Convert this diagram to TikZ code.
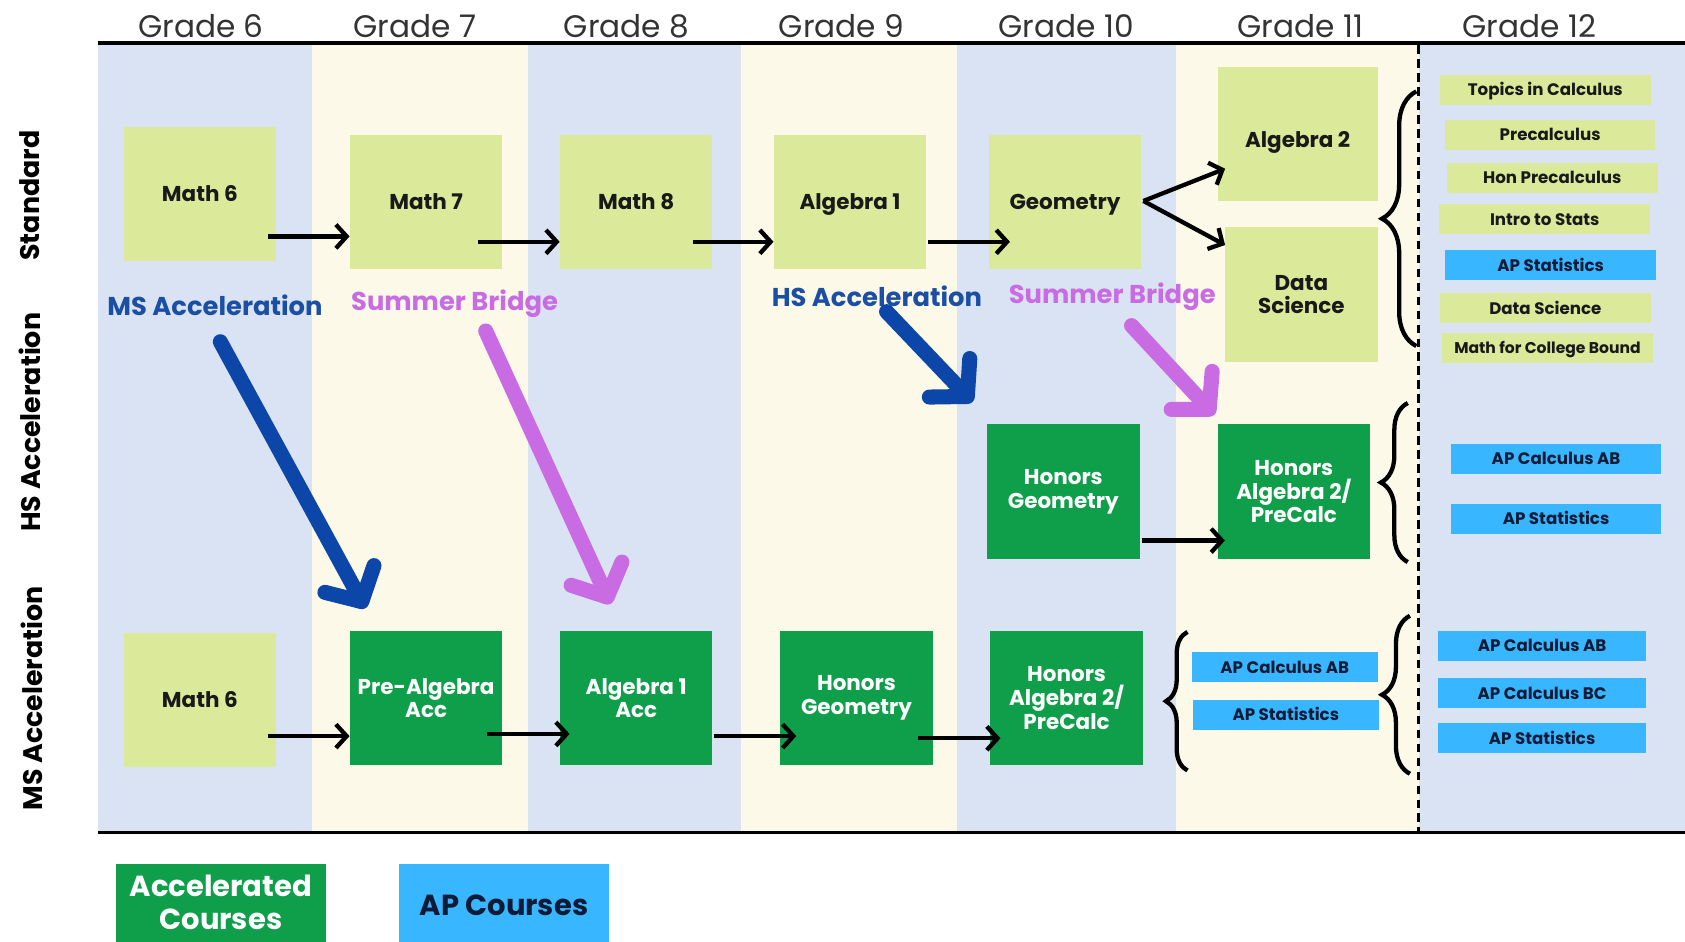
\documentclass[tikz,border=0pt]{standalone}
\usepackage{fontspec}
\setmainfont{Poppins}
\usetikzlibrary{arrows.meta,decorations.pathreplacing}
\definecolor{bgblue}{HTML}{DAE3F3}
\definecolor{bgcream}{HTML}{FDF9E9}
\definecolor{lgreen}{HTML}{DAE99A}
\definecolor{dgreen}{HTML}{0F9F4B}
\definecolor{apblue}{HTML}{38B6FF}
\definecolor{accblue}{HTML}{1B4FA3}
\definecolor{arrblue}{HTML}{0B46A8}
\definecolor{purp}{HTML}{C96CE3}
\definecolor{navy}{HTML}{0E1B36}
\begin{document}
\begin{tikzpicture}[x=1pt,y=-1pt,
  stdbox/.style={fill=lgreen, inner sep=0pt, align=center, minimum width=142pt, minimum height=125pt, font=\fontsize{20}{22}\selectfont\bfseries, text=black!90},
  oneline/.style={text height=14pt, text depth=0pt},
  accbox/.style={stdbox, fill=dgreen, text=white},
  listbox/.style={fill=lgreen, minimum width=196pt, minimum height=28pt, inner sep=0pt, text height=11pt, text depth=0pt, font=\fontsize{15.5}{17}\selectfont\bfseries, text=black!90},
  apbox/.style={listbox, fill=apblue, text=navy},
  grade/.style={font=\fontsize{29}{32}\selectfont, text=black!80},
  rowlab/.style={rotate=90, font=\fontsize{25}{28}\selectfont\bfseries},
  acclab/.style={font=\fontsize{24}{28}\selectfont\bfseries},
  legtext/.style={align=center, inner sep=0pt, font=\fontsize{27}{31}\selectfont\bfseries},
  flow/.style={line width=4pt, -{Straight Barb[length=10pt,width=22pt]}},
  bigarrow/.style={line width=14pt, line cap=round, -{Straight Barb[length=24pt,width=52pt,round]}},
  bracket/.style={decorate, decoration={brace, amplitude=#1}, line width=4pt}
]
\useasboundingbox (0,0) rectangle (1568,876);
% column backgrounds
\fill[bgblue]  (91,42) rectangle (290,773);
\fill[bgcream] (290,42) rectangle (491,773);
\fill[bgblue]  (491,42) rectangle (690,773);
\fill[bgcream] (690,42) rectangle (891,773);
\fill[bgblue]  (891,42) rectangle (1094,773);
\fill[bgcream] (1094,42) rectangle (1320,773);
\fill[bgblue]  (1320,42) rectangle (1568,773);
% rules
\draw[line width=3pt] (91,40) -- (1568,40);
\draw[line width=3pt] (91,775) -- (1568,775);
\draw[line width=3pt, dash pattern=on 8pt off 5pt] (1320,42) -- (1320,775);
% grade labels
\node[grade] (g6) at (187,24) {Grade 6};
\node[grade] (g7) at (386,24) {Grade 7};
\node[grade] (g8) at (583,24) {Grade 8};
\node[grade] (g9) at (783,24) {Grade 9};
\node[grade] (g10) at (992,24) {Grade 10};
\node[grade] (g11) at (1210,24) {Grade 11};
\node[grade] (g12) at (1423,24) {Grade 12};
% row labels
\node[rowlab] (rstd) at (28,182) {Standard};
\node[rowlab] (rhs) at (28,393) {HS Acceleration};
\node[rowlab] (rms) at (30,650) {MS Acceleration};
% standard row
\node[stdbox, oneline] (s6) at (186,180.5) {Math 6};
\node[stdbox, oneline] (s7) at (396.5,188) {Math 7};
\node[stdbox, oneline] (s8) at (592,188) {Math 8};
\node[stdbox, oneline] (s9) at (791,188) {Algebra 1};
\node[stdbox, oneline] (s10) at (991,188) {Geometry};
\node[stdbox, minimum width=149pt, text height=24pt, text depth=0pt] (s11a) at (1207.5,125) {Algebra 2};
\node[stdbox] (s11b) at (1211,274) {Data\\Science};
% grade 12 standard list
\node[listbox] (t1) at (1438,83.5) {Topics in Calculus};
\node[listbox] (t2) at (1442.5,125.5) {Precalculus};
\node[listbox] (t3) at (1444.5,165.5) {Hon Precalculus};
\node[listbox] (t4) at (1437.5,204) {Intro to Stats};
\node[apbox] (t5) at (1443,247) {AP Statistics};
\node[listbox] (t6) at (1438,287) {Data Science};
\node[listbox, font=\fontsize{14.5}{16}\selectfont\bfseries] (t7) at (1440,323.5) {Math for College Bound};
% HS row
\node[accbox, minimum width=143pt] (h10) at (989.5,457.5) {Honors\\Geometry};
\node[accbox] (h11) at (1204,457.5) {Honors\\Algebra 2/\\PreCalc};
\node[apbox] (h12a) at (1448,427) {AP Calculus AB};
\node[apbox] (h12b) at (1448,483) {AP Statistics};
% MS row
\node[stdbox, oneline] (m6) at (186,651.5) {Math 6};
\node[accbox] (m7) at (396.5,649.5) {Pre-Algebra\\Acc};
\node[accbox] (m8) at (592,649.5) {Algebra 1\\Acc};
\node[accbox] (m9) at (797,649.5) {Honors\\Geometry};
\node[accbox, minimum width=143pt] (m10) at (992.5,649.5) {Honors\\Algebra 2/\\PreCalc};
\node[apbox, minimum width=173pt] (m11a) at (1195.5,621) {AP Calculus AB};
\node[apbox, minimum width=173pt] (m11b) at (1196.5,665) {AP Statistics};
\node[apbox, minimum width=194pt] (m12a) at (1435,601) {AP Calculus AB};
\node[apbox, minimum width=194pt] (m12b) at (1435,645) {AP Calculus BC};
\node[apbox, minimum width=194pt] (m12c) at (1435,687) {AP Statistics};
% acceleration labels
\node[acclab, text=accblue] (la1) at (200,284) {MS Acceleration};
\node[acclab, text=purp] (la2) at (423,283) {Summer Bridge};
\node[acclab, text=accblue] (la3) at (816,276) {HS Acceleration};
\node[acclab, text=purp] (la4) at (1035,276) {Summer Bridge};
% legend
\node[fill=dgreen, minimum width=195pt, minimum height=80pt, inner sep=0pt] (leg1) at (205.5,844) {};
\node[legtext, text=white] (leg1t) at (205.5,840) {Accelerated\\Courses};
\node[fill=apblue, minimum width=196pt, minimum height=80pt, inner sep=0pt] (leg2) at (469,844) {};
\node[legtext, text=navy, text height=19pt, text depth=0pt] (leg2t) at (469,842) {AP Courses};
% flow arrow start coordinates
\coordinate (f1) at (249,220);
\coordinate (f2) at (445,225);
\coordinate (f3) at (645,225);
\coordinate (f4) at (864,225);
\coordinate (f5) at (1064,187);
\coordinate (f6) at (1063,503);
\coordinate (f7) at (249,685);
\coordinate (f8) at (453,683);
\coordinate (f9) at (664,685);
\coordinate (f10) at (854,687);
\coordinate (e5a) at (1140,157);
\coordinate (e5b) at (1140,228);
\coordinate (e8) at (530,683);
\coordinate (e9) at (741,685);
\coordinate (e10) at (931,687);
\draw[flow] (f1) -- (f1 -| s7.west);
\draw[flow] (f2) -- (f2 -| s8.west);
\draw[flow] (f3) -- (f3 -| s9.west);
\draw[flow] (f4) -- ([xshift=20pt]f4 -| s10.west);
\draw[flow] (f5) -- (e5a);
\draw[flow] (f5) -- (e5b);
\draw[flow] (f6) -- ([xshift=7pt]f6 -| h11.west);
\draw[flow] (f7) -- (f7 -| m7.west);
\draw[flow] (f8) -- (e8);
\draw[flow] (f9) -- (e9);
\draw[flow] (f10) -- (e10);
% big arrows
\coordinate (b1s) at (205,318); \coordinate (b1e) at (340,566);
\coordinate (b2s) at (452,308); \coordinate (b2e) at (568,562);
\coordinate (b3s) at (825,290); \coordinate (b3e) at (905,374);
\coordinate (b4s) at (1053,303); \coordinate (b4e) at (1130,386);
\draw[bigarrow, arrblue] (b1s) -- (b1e);
\draw[bigarrow, purp] (b2s) -- (b2e);
\draw[bigarrow, arrblue] (b3s) -- (b3e);
\draw[bigarrow, purp] (b4s) -- (b4e);
% braces
\draw[bracket=32pt] (1318,322) -- (1318,85);
\draw[bracket=25pt] (1310,523) -- (1310,375);
\draw[bracket=20pt] (1105,717) -- (1105,588);
\draw[bracket=26pt] (1312,720) -- (1312,573);
\end{tikzpicture}
\end{document}
